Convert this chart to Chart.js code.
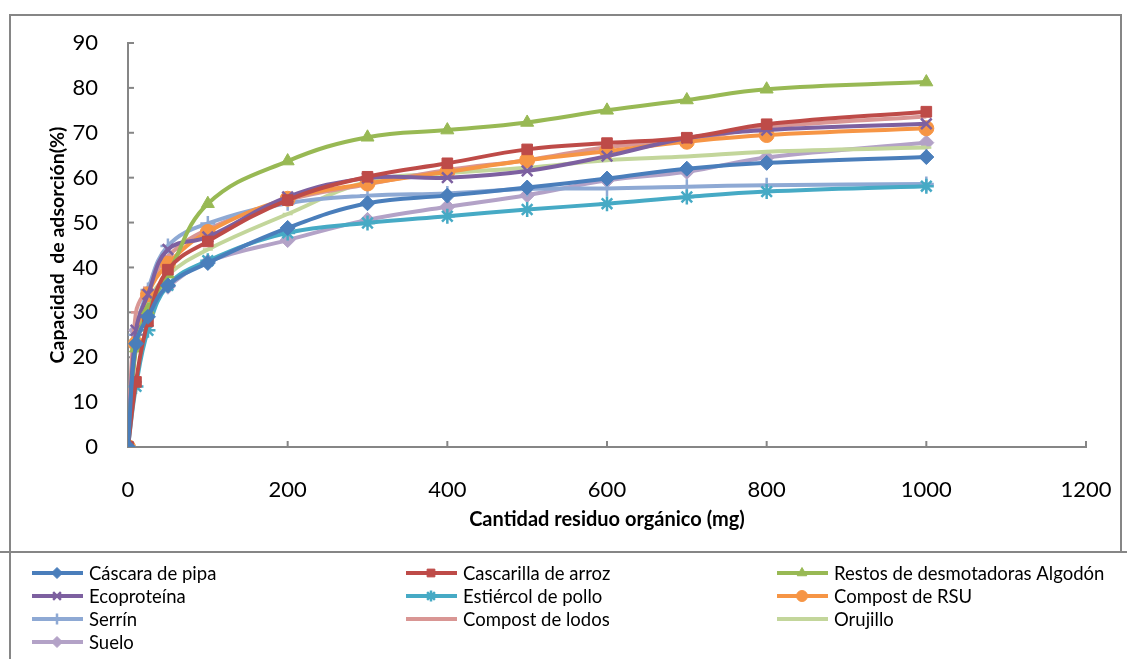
<!DOCTYPE html>
<html>
<head>
<meta charset="utf-8">
<script src="https://cdn.jsdelivr.net/npm/chart.js"></script>
<style>
  body { margin: 0; background: #fff; }
  #wrap { width: 1127px; height: 659px; position: relative; }
</style>
</head>
<body>
<div id="wrap"><canvas id="adsorcion"></canvas></div>
<script>
// cantidad de residuo (mg)
const dosis = [0, 10, 25, 50, 100, 200, 300, 400, 500, 600, 700, 800, 1000];

const cascara_pipa   = [0, 23, 29, 36, 41, 48.8, 54.3, 56, 57.8, 59.8, 62, 63.3, 64.6];
const cascarilla     = [0, 14.5, 28, 39.5, 45.8, 55, 60.2, 63.2, 66.3, 67.7, 68.9, 71.9, 74.7];
const restos_algodon = [0, 22, 30.5, 38.5, 54.2, 63.7, 69, 70.6, 72.3, 75, 77.3, 79.7, 81.3];
const ecoproteina    = [0, 26, 34, 44, 46.8, 55.7, 59.9, 60, 61.5, 64.8, 68.8, 70.6, 72];
const estiercol      = [0, 13.5, 26, 36, 41.5, 47.7, 49.9, 51.4, 52.9, 54.2, 55.7, 56.9, 58.1];
const compost_rsu    = [0, 23, 34, 40.8, 47.9, 55.3, 58.7, 61.3, 63.9, 65.9, 68, 69.5, 71];
const serrin         = [0, 25, 35, 44.8, 49.8, 54.3, 56, 56.5, 57.5, 57.6, 58, 58.3, 58.6];
const compost_lodos  = [0, 30, 35.5, 42.5, 48.5, 55, 58.5, 61.7, 63.9, 66.8, 68.4, 71.2, 73.6];
const orujillo       = [0, 22.5, 32, 38.3, 44, 51.9, 59.1, 61, 62.2, 63.9, 64.7, 65.8, 66.7];
const suelo          = [0, 26, 31, 35.7, 41.3, 46.1, 50.6, 53.5, 56.1, 59.4, 61.3, 64.5, 67.8];

const nombres = ['Cáscara de pipa', 'Cascarilla de arroz', 'Restos de desmotadoras Algodón',
  'Ecoproteína', 'Estiércol de pollo', 'Compost de RSU', 'Serrín', 'Compost de lodos',
  'Orujillo', 'Suelo'];
const series = [cascara_pipa, cascarilla, restos_algodon, ecoproteina, estiercol,
  compost_rsu, serrin, compost_lodos, orujillo, suelo];

const colores = ['#4A7EBB', '#BE4B48', '#98B954', '#7D60A0', '#46AAC5',
  '#F69545', '#8EA9D4', '#D99694', '#C3D69B', '#B3A2C7'];
const marcadores = ['rectRot', 'rect', 'triangle', 'crossRot', 'star',
  'circle', 'cross', 'line', 'line', 'rectRot'];

const gris = '#868686';
const fuente = 'Lato, "Open Sans", sans-serif';

function esTrazo(m) {
  return m == 'crossRot' || m == 'star' || m == 'cross' || m == 'line';
}

const datasets = series.map(function(s, i) {
  return {
    label: nombres[i],
    data: s.map(function(v, j) { return {x: dosis[j], y: v}; }),
    borderColor: colores[i],
    backgroundColor: colores[i],
    pointBackgroundColor: colores[i],
    pointBorderColor: colores[i],
    pointStyle: marcadores[i],
    pointRadius: marcadores[i] == 'line' ? 5 : 7.5,
    pointBorderWidth: esTrazo(marcadores[i]) ? 2.5 : 1,
    borderWidth: 4,
    tension: 0.4,
    fill: false
  };
});

// marco exterior, ticks hacia dentro y leyenda
const marco = {
  id: 'marco',
  beforeDatasetsDraw(chart) {
    const ctx = chart.ctx;
    const xs = chart.scales.x, ys = chart.scales.y;
    ctx.save();
    ctx.strokeStyle = gris;
    ctx.lineWidth = 2;
    ys.ticks.forEach(function(t) {
      const py = ys.getPixelForValue(t.value);
      ctx.beginPath(); ctx.moveTo(xs.left, py); ctx.lineTo(xs.left + 6, py); ctx.stroke();
    });
    xs.ticks.forEach(function(t) {
      const px = xs.getPixelForValue(t.value);
      ctx.beginPath(); ctx.moveTo(px, ys.bottom); ctx.lineTo(px, ys.bottom - 6); ctx.stroke();
    });
    ctx.restore();
  },
  afterDraw(chart) {
    const ctx = chart.ctx;
    ctx.save();
    ctx.strokeStyle = gris;
    ctx.lineWidth = 2;
    ctx.strokeRect(10, 15, 1111, 537);
    ctx.beginPath(); ctx.moveTo(10, 552); ctx.lineTo(10, 659); ctx.stroke();
    ctx.beginPath(); ctx.moveTo(0, 552); ctx.lineTo(1127, 552); ctx.stroke();

    const colX = [32, 406, 777];
    chart.data.datasets.forEach(function(ds, i) {
      const x0 = colX[i % 3];
      const y0 = 573 + Math.floor(i / 3) * 23;
      ctx.strokeStyle = ds.borderColor;
      ctx.lineWidth = 4;
      ctx.beginPath(); ctx.moveTo(x0, y0); ctx.lineTo(x0 + 51, y0); ctx.stroke();
      if (ds.pointStyle != 'line' && Chart.helpers && Chart.helpers.drawPoint) {
        ctx.fillStyle = ds.borderColor;
        ctx.lineWidth = ds.pointBorderWidth;
        Chart.helpers.drawPoint(ctx, {pointStyle: ds.pointStyle, radius: 5.5, rotation: 0, borderWidth: ds.pointBorderWidth}, x0 + 25, y0);
      }
      ctx.fillStyle = '#000';
      ctx.font = '18.5px ' + fuente;
      ctx.textBaseline = 'middle';
      ctx.textAlign = 'left';
      ctx.fillText(ds.label, x0 + 57, y0 + 1);
    });
    ctx.restore();
  }
};

new Chart(document.getElementById('adsorcion'), {
  type: 'line',
  data: { datasets: datasets },
  options: {
    responsive: true,
    maintainAspectRatio: false,
    animation: false,
    layout: { padding: { left: 0, top: 43, right: 41, bottom: 0 } },
    plugins: { legend: { display: false }, tooltip: { enabled: false } },
    scales: {
      x: {
        type: 'linear',
        min: 0, max: 1200,
        afterFit: function(s) { s.height = 212; s.paddingRight = 0; s.paddingLeft = 0; },
        grid: { display: false },
        border: { display: true, color: gris, width: 2 },
        ticks: {
          stepSize: 200, padding: 22, color: '#000', maxRotation: 0,
          font: { family: fuente, size: 22 },
          callback: function(v) { return String(v); }
        },
        title: {
          display: true,
          text: 'Cantidad residuo orgánico (mg)',
          color: '#000',
          font: { family: fuente, size: 20, weight: 'bold' },
          padding: { top: 0, bottom: 127 }
        }
      },
      y: {
        min: 0, max: 90,
        afterFit: function(s) { s.width = 128; },
        grid: { display: false },
        border: { display: true, color: gris, width: 2 },
        ticks: { stepSize: 10, padding: 22, color: '#000', font: { family: fuente, size: 22 } },
        title: {
          display: true,
          text: 'Capacidad  de adsorción(%)',
          color: '#000',
          font: { family: fuente, size: 19.5, weight: 'bold' },
          padding: { top: 46, bottom: 0 }
        }
      }
    }
  },
  plugins: [marco]
});
</script>
</body>
</html>
